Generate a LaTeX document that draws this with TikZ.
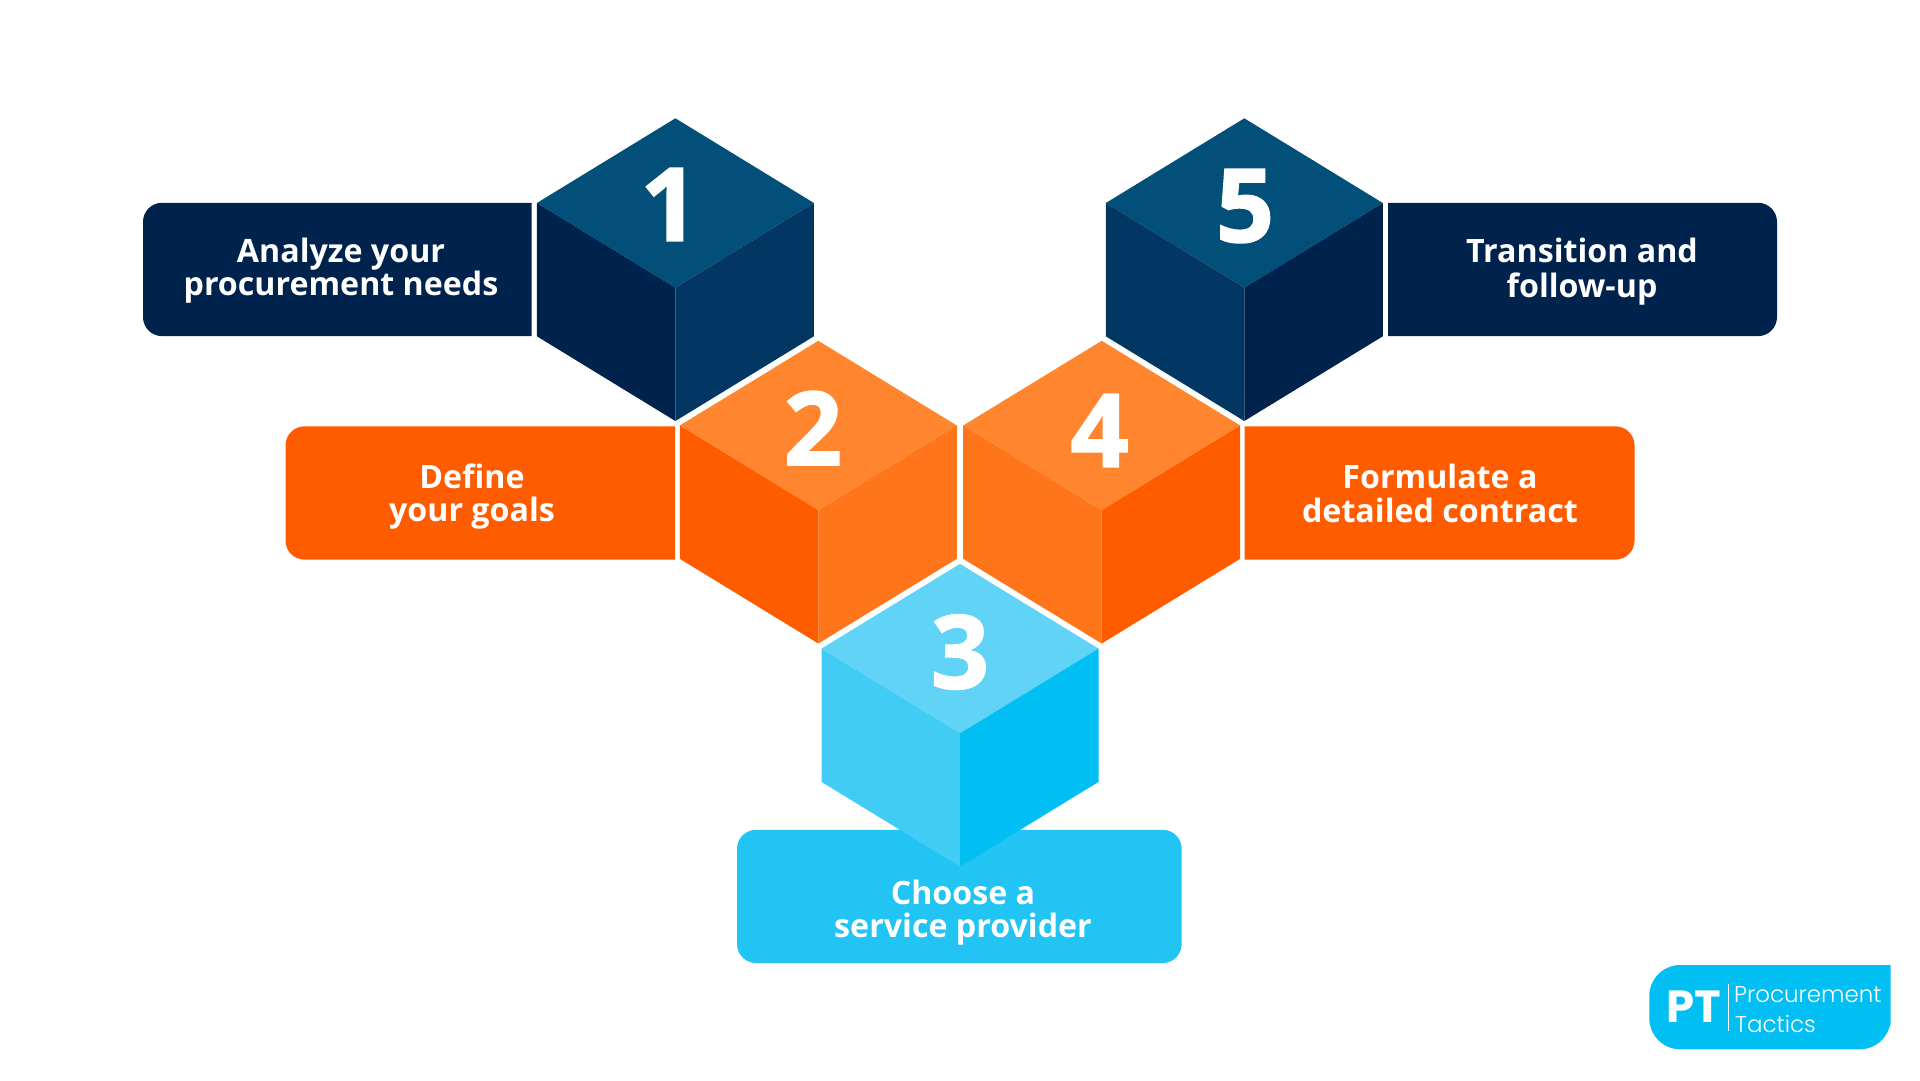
\documentclass[tikz,border=0pt]{standalone}
\usepackage{fontspec}
\setmainfont{Open Sans}
\newfontfamily\numfont[BoldFeatures={FakeBold=1.6}]{Open Sans}
\newfontfamily\logofont{Poppins}
\newfontfamily\logolight{Poppins Light}
\definecolor{navyT}{HTML}{02507A}
\definecolor{navyL}{HTML}{00234D}
\definecolor{navyR}{HTML}{023763}
\definecolor{orgT}{HTML}{FF862E}
\definecolor{orgL}{HTML}{FF5C00}
\definecolor{orgR}{HTML}{FF751A}
\definecolor{bluT}{HTML}{60D3F6}
\definecolor{bluL}{HTML}{40CCF5}
\definecolor{bluR}{HTML}{02BFF3}
\definecolor{bluB}{HTML}{21C4F3}
\tikzset{
  labeltext/.style={text=white,font=\fontsize{32.2}{33}\selectfont\bfseries,align=center,inner sep=0pt},
  cubenum/.style={text=white,font=\fontsize{102}{102}\numfont\bfseries,inner sep=0pt},
}
% #1 = x of centre vertex, #2 = y of centre vertex, #3 top, #4 left, #5 right colours
\newcommand\cubefaces[5]{%
  \fill[#3] (#1,#2) -- (#1-138.5,#2-84.7) -- (#1,#2-169.4) -- (#1+138.5,#2-84.7) -- cycle;
  \fill[#4] (#1,#2) -- (#1-138.5,#2-84.7) -- (#1-138.5,#2+48.6) -- (#1,#2+133.3) -- cycle;
  \fill[#5] (#1,#2) -- (#1+138.5,#2-84.7) -- (#1+138.5,#2+48.6) -- (#1,#2+133.3) -- cycle;
}
% box square on the right: #1 left x, #2 right x, #3 top y, #4 colour
\newcommand\boxR[4]{\fill[#4,rounded corners=19pt] (#2,#3) [sharp corners] -- (#1+19,#3) [rounded corners=19pt] -- (#1,#3) -- (#1,#3+133.3) -- (#1+40,#3+133.3) [sharp corners] -- (#2,#3+133.3) -- cycle;}
% box square on the left
\newcommand\boxL[4]{\fill[#4,rounded corners=19pt] (#1,#3) [sharp corners] -- (#2-40,#3) [rounded corners=19pt] -- (#2,#3) -- (#2,#3+133.3) -- (#2-40,#3+133.3) [sharp corners] -- (#1,#3+133.3) -- cycle;}
\begin{document}
\begin{tikzpicture}[x=1pt,y=-1pt]
\useasboundingbox (0,0) rectangle (1920,1080);
\fill[white] (0,0) rectangle (1920,1080);
% label boxes
\boxR{143}{531.5}{202.8}{navyL}
\boxR{285.5}{675}{426.3}{orgL}
\fill[bluB,rounded corners=19pt] (737,829.8) rectangle (1181.7,963);
\boxL{1244.5}{1634.5}{426.3}{orgL}
\boxL{1388}{1777}{202.8}{navyL}
% cubes
\cubefaces{675.4}{287.7}{navyT}{navyL}{navyR}
\cubefaces{818.3}{510.2}{orgT}{orgL}{orgR}
\cubefaces{960}{733.3}{bluT}{bluL}{bluR}
\cubefaces{1101.7}{510.2}{orgT}{orgR}{orgL}
\cubefaces{1244.3}{287.7}{navyT}{navyR}{navyL}
% numbers
\node[cubenum] (n1) at (669.5,204.5) {1};
\node[cubenum] (n2) at (813,428) {2};
\node[cubenum] (n3) at (960,652) {3};
\node[cubenum] (n4) at (1099.6,430.5) {4};
\node[cubenum] (n5) at (1245,206) {5};
% labels
\node[labeltext] (t1) at (341,270.5) {Analyze your\\procurement needs};
\node[labeltext] (t2) at (472,496.5) {Define\\your goals};
\node[labeltext] (t3) at (963,912.5) {Choose a\\service provider};
\node[labeltext] (t4) at (1440,493.5) {Formulate a\\[1pt]detailed contract};
\node[labeltext] (t5) at (1582,271.5) {Transition and\\[1.5pt]follow-up};
% logo
\fill[bluR,rounded corners=31pt] (1890.7,965) [sharp corners] -- (1720,965) [rounded corners=31pt] -- (1649.3,965) -- (1649.3,1049.3) -- (1890.7,1049.3) -- (1890.7,1000) [sharp corners] -- cycle;
\node[text=white,font=\fontsize{45}{45}\logofont\bfseries,inner sep=0pt] (ptmark) at (1693.5,1007) {PT};
\draw[white,line width=0.6pt] (1728.7,984) -- (1728.7,1031);
\node[text=white,font=\fontsize{22.9}{28}\logolight,inner sep=0pt,anchor=west] (pname) at (1734,995) {Procurement};
\node[text=white,font=\fontsize{22.9}{28}\logolight,inner sep=0pt,anchor=west] (ptact) at (1735,1023.5) {Tactics};
\end{tikzpicture}
\end{document}
